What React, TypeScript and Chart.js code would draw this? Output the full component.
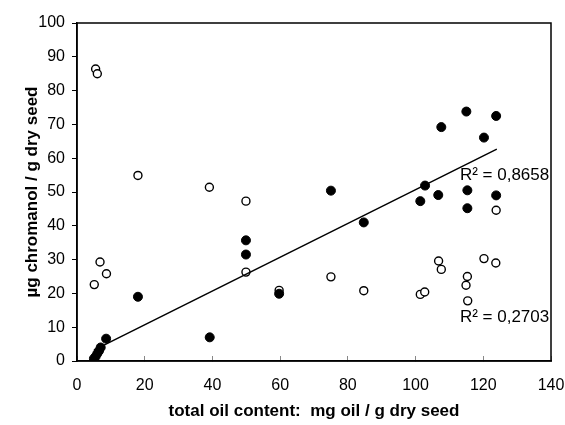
import { useEffect, useRef } from "react";
import { Chart, registerables } from "chart.js";

Chart.register(...registerables);

// Filled circles: seeds with high chromanol per oil
const oilFilled = [5.0, 5.5, 6.0, 6.5, 7.0, 8.6, 18.0, 39.2, 49.9, 49.9, 59.7, 75.0, 84.7, 101.4, 102.8, 106.7, 107.6, 115.0, 115.3, 115.3, 120.2, 123.8, 123.8];
const chromFilled = [0.7, 1.3, 2.2, 3.0, 4.0, 6.6, 19.0, 7.0, 35.7, 31.5, 19.9, 50.4, 41.0, 47.3, 51.9, 49.1, 69.2, 73.8, 50.5, 45.2, 66.1, 72.5, 49.0];

// Open circles: second series
const oilOpen = [5.5, 6.0, 18.0, 5.1, 6.8, 8.7, 39.1, 49.9, 49.9, 59.7, 75.0, 84.7, 123.8, 106.8, 107.6, 120.2, 123.7, 115.3, 114.9, 115.4, 101.4, 102.7];
const chromOpen = [86.4, 85.0, 54.9, 22.6, 29.3, 25.8, 51.4, 47.3, 26.3, 20.9, 24.9, 20.8, 44.6, 29.6, 27.1, 30.3, 29.0, 25.0, 22.4, 17.8, 19.7, 20.4];

// Linear fit through the filled series
const fitSlope = 0.5;
const fitIntercept = 0.7;
const fitRange = [5, 124];

const xTicks = [0, 20, 40, 60, 80, 100, 120, 140];
const yTicks = [0, 10, 20, 30, 40, 50, 60, 70, 80, 90, 100];

const r2Texts = ["R² = 0,8658", "R² = 0,2703"];
const r2Anchors = [
  { x: 113.1, y: 54.9 },
  { x: 113.1, y: 12.9 },
];

const FONT = "'Liberation Sans', Arial, sans-serif";

const frameAndLabels = {
  id: "frameAndLabels",
  afterDatasetsDraw(chart: any) {
    const { ctx, chartArea, scales } = chart;
    ctx.save();
    ctx.strokeStyle = "#000";
    ctx.lineWidth = 1.5;
    ctx.strokeRect(chartArea.left, chartArea.top, chartArea.right - chartArea.left, chartArea.bottom - chartArea.top);
    ctx.fillStyle = "#000";
    ctx.font = `17px ${FONT}`;
    ctx.textAlign = "left";
    ctx.textBaseline = "middle";
    r2Texts.forEach((t, i) => {
      const px = scales.x.getPixelForValue(r2Anchors[i].x);
      const py = scales.y.getPixelForValue(r2Anchors[i].y);
      ctx.fillText(t, px, py);
    });
    ctx.restore();
  },
};

export default function App() {
  const canvasRef = useRef<HTMLCanvasElement | null>(null);

  useEffect(() => {
    if (!canvasRef.current) return;
    const chart = new Chart(canvasRef.current, {
      type: "scatter",
      data: {
        datasets: [
          {
            type: "line",
            data: fitRange.map((x) => ({ x, y: fitSlope * x + fitIntercept })),
            borderColor: "#000",
            borderWidth: 1.5,
            pointRadius: 0,
            fill: false,
            order: 0,
          },
          {
            data: oilFilled.map((x, i) => ({ x, y: chromFilled[i] })),
            backgroundColor: "#000",
            borderColor: "#000",
            borderWidth: 1,
            pointRadius: 4.5,
            order: 1,
          },
          {
            data: oilOpen.map((x, i) => ({ x, y: chromOpen[i] })),
            backgroundColor: "#fff",
            borderColor: "#000",
            borderWidth: 1.4,
            pointRadius: 4,
            order: 2,
          },
        ] as any,
      },
      options: {
        animation: false,
        responsive: false,
        devicePixelRatio: 1,
        layout: { padding: { top: 23, right: 14, left: 0, bottom: 0 } },
        plugins: { legend: { display: false }, tooltip: { enabled: false } },
        scales: {
          x: {
            type: "linear",
            min: 0,
            max: 140,
            afterBuildTicks: (s: any) => {
              s.ticks = xTicks.map((v) => ({ value: v }));
            },
            afterFit: (s: any) => {
              s.height = 64;
              s.paddingLeft = 0;
              s.paddingRight = 0;
            },
            ticks: { color: "#000", font: { family: FONT, size: 16 }, padding: 20 },
            grid: { drawOnChartArea: false, tickLength: -5, color: "#888", lineWidth: 1 },
            border: { display: true, color: "#000", width: 1.5 },
            title: {
              display: true,
              text: "total oil content:  mg oil / g dry seed",
              color: "#000",
              font: { family: FONT, size: 17, weight: "bold" },
              padding: { top: 3, bottom: 3 },
            },
          },
          y: {
            type: "linear",
            min: 0,
            max: 100,
            afterBuildTicks: (s: any) => {
              s.ticks = yTicks.map((v) => ({ value: v }));
            },
            afterFit: (s: any) => {
              s.width = 77;
              s.paddingTop = 0;
              s.paddingBottom = 0;
            },
            ticks: { color: "#000", font: { family: FONT, size: 16 }, padding: 7 },
            grid: { drawOnChartArea: false, tickLength: 5, color: "#000", lineWidth: 1 },
            border: { display: true, color: "#000", width: 1.5 },
            title: {
              display: true,
              text: "µg chromanol / g dry seed",
              color: "#000",
              font: { family: FONT, size: 17, weight: "bold" },
              padding: { top: 22, bottom: 22 },
            },
          },
        },
      } as any,
      plugins: [frameAndLabels],
    });
    return () => chart.destroy();
  }, []);

  return (
    <div style={{ position: "absolute", left: 0, top: 0, width: 565, height: 425, background: "#fff" }}>
      <canvas ref={canvasRef} width={565} height={425} />
    </div>
  );
}
